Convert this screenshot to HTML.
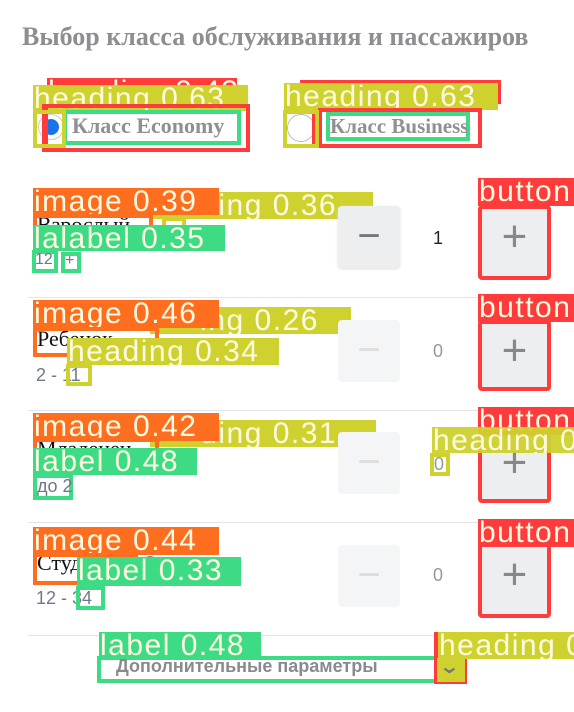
<!DOCTYPE html>
<html><head><meta charset="utf-8"><style>
body{margin:0;width:574px;height:712px;background:#fff;position:relative;overflow:hidden;font-family:"Liberation Sans","DejaVu Sans",sans-serif}
.a{position:absolute;box-sizing:border-box}
.t{position:absolute;white-space:nowrap}
.lb{position:absolute;color:#fffbe2;font-size:30px;line-height:28px;white-space:nowrap;overflow:hidden;padding-left:1px;letter-spacing:1.5px}
.R{background:#ff3b3b}.Y{background:#cfd22e}.O{background:#ff6e1f}.G{background:#3ddc84}
.bR{border:4px solid #ff3b3b}.bY{border:4px solid #cfd22e}.bO{border:4px solid #ff6e1f}.bG{border:4px solid #3ddc84}
.btn{position:absolute;background:#eceef0;border-radius:4px;color:#888;font-size:40px;text-align:center;font-weight:100}
.hr{position:absolute;left:28px;width:546px;height:1px;background:#e4e4e8}
.num{position:absolute;font-size:18px;color:#999}
.sub{position:absolute;font-size:18px;color:#707888}
</style></head><body>
<div class="t" style="left:22px;top:22px;font-family:'Liberation Serif',serif;font-weight:bold;font-size:26px;color:#8e8e92">Выбор класса обслуживания и пассажиров</div>

<!-- economy -->
<div class="lb R" style="left:47px;top:78px;width:189px;height:22px">heading 0.43</div>
<div class="lb Y" style="left:33px;top:85px;width:214px;height:26px">heading 0.63</div>
<div class="a" style="left:38px;top:114px;width:26px;height:26px;border-radius:50%;border:1px solid #ccc;background:#fff"></div>
<div class="a" style="left:43px;top:119px;width:16px;height:16px;border-radius:50%;background:#1a73e8"></div>
<div class="a bR" style="left:42px;top:104px;width:208px;height:48px"></div>
<div class="a" style="left:44px;top:108px;width:4px;height:36px;background:#ff3b3b"></div>
<div class="a bG" style="left:63px;top:110px;width:178px;height:35px;background:#fff"></div>
<div class="t" style="left:72px;top:113px;font-family:'Liberation Serif',serif;font-weight:bold;font-size:22px;color:#909090">Класс Economy</div>
<div class="a bY" style="left:33px;top:110px;width:33px;height:38px"></div>

<!-- business -->
<div class="lb R" style="left:300px;top:80px;width:200px;height:24px"></div>
<div class="lb Y" style="left:284px;top:83px;width:213px;height:27px">heading 0.63</div>
<div class="a" style="left:287px;top:114px;width:28px;height:28px;border-radius:50%;border:1px solid #bbb;background:#fff"></div>
<div class="a bR" style="left:318px;top:108px;width:164px;height:40px"></div>
<div class="a" style="left:312px;top:113px;width:4px;height:34px;background:#ff3b3b"></div>
<div class="a bG" style="left:326px;top:112px;width:144px;height:29px"></div>
<div class="t" style="left:330px;top:114px;font-family:'Liberation Serif',serif;font-weight:bold;font-size:21px;color:#909090;width:137px;overflow:hidden">Класс Business</div>
<div class="a bY" style="left:283px;top:110px;width:36px;height:38px"></div>

<!-- row1 -->
<div class="lb Y" style="left:150px;top:192px;width:222px;height:27px">&nbsp;&nbsp;&nbsp;&nbsp;&nbsp;ding 0.36</div>
<div class="lb O" style="left:33px;top:188px;width:185px;height:27px">image 0.39</div>
<div class="t" style="left:37px;top:212px;font-family:'Liberation Serif',serif;font-size:22px;color:#111">Взрослый</div>
<div class="a bO" style="left:33px;top:214px;width:120px;height:28px"></div>
<div class="a bY" style="left:162px;top:217px;width:24px;height:22px"></div>
<div class="lb G" style="left:33px;top:225px;width:191px;height:26px">lalabel 0.35</div>
<div class="a bG" style="left:32px;top:250px;width:26px;height:23px"></div>
<div class="sub" style="left:35px;top:251px;font-size:16px">12</div>
<div class="a bG" style="left:61px;top:252px;width:20px;height:21px"></div>
<div class="sub" style="left:65px;top:252px;font-size:16px">+</div>
<div class="btn" style="left:338px;top:206px;width:62px;height:62px;line-height:60px;color:#777;box-shadow:0 1px 3px #ddd">−</div>
<div class="num" style="left:433px;top:228px;color:#222">1</div>
<div class="lb R" style="left:478px;top:178px;width:96px;height:28px">button</div>
<div class="btn bR" style="left:478px;top:205px;width:65px;height:67px;line-height:56px;font-size:44px;color:#888">+</div>

<div class="hr" style="top:297px"></div>
<!-- row2 -->
<div class="lb Y" style="left:150px;top:307px;width:200px;height:27px">&nbsp;&nbsp;&nbsp;&nbsp;&nbsp;ing 0.26</div>
<div class="lb O" style="left:33px;top:300px;width:185px;height:28px">image 0.46</div>
<div class="t" style="left:37px;top:326px;font-family:'Liberation Serif',serif;font-size:22px;color:#111">Ребенок</div>
<div class="a bO" style="left:33px;top:327px;width:126px;height:30px"></div>
<div class="lb Y" style="left:67px;top:338px;width:211px;height:27px">heading 0.34</div>
<div class="sub" style="left:36px;top:365px">2 - 11</div>
<div class="a bY" style="left:66px;top:364px;width:26px;height:22px"></div>
<div class="btn" style="left:338px;top:320px;width:62px;height:62px;line-height:60px;background:#f4f5f6;color:#ddd">−</div>
<div class="num" style="left:433px;top:341px">0</div>
<div class="lb R" style="left:478px;top:294px;width:96px;height:28px">button</div>
<div class="btn bR" style="left:478px;top:320px;width:65px;height:63px;line-height:54px;font-size:44px">+</div>

<div class="hr" style="top:410px"></div>
<!-- row3 -->
<div class="lb Y" style="left:150px;top:420px;width:225px;height:27px">&nbsp;&nbsp;&nbsp;&nbsp;&nbsp;ding 0.31</div>
<div class="lb O" style="left:33px;top:413px;width:185px;height:28px">image 0.42</div>
<div class="t" style="left:37px;top:436px;font-family:'Liberation Serif',serif;font-size:22px;color:#111">Младенец</div>
<div class="a bO" style="left:33px;top:438px;width:126px;height:24px"></div>
<div class="lb G" style="left:33px;top:448px;width:163px;height:27px">label 0.48</div>
<div class="a bG" style="left:33px;top:474px;width:40px;height:26px"></div>
<div class="sub" style="left:37px;top:476px">до 2</div>
<div class="btn" style="left:338px;top:432px;width:62px;height:62px;line-height:60px;background:#f4f5f6;color:#ddd">−</div>
<div class="lb R" style="left:478px;top:407px;width:96px;height:28px">button</div>
<div class="btn bR" style="left:478px;top:432px;width:65px;height:63px;line-height:54px;font-size:44px">+</div>
<div class="lb Y" style="left:432px;top:427px;width:142px;height:26px;opacity:.95">heading 0</div>
<div class="num" style="left:434px;top:454px">0</div>
<div class="a bY" style="left:430px;top:453px;width:20px;height:23px"></div>

<div class="hr" style="top:522px"></div>
<!-- row4 -->
<div class="lb O" style="left:33px;top:527px;width:185px;height:28px">image 0.44</div>
<div class="t" style="left:37px;top:550px;font-family:'Liberation Serif',serif;font-size:22px;color:#111">Студент</div>
<div class="a" style="left:143px;top:556px;width:14px;height:14px;border-radius:50%;background:#777"></div>
<div class="a bO" style="left:33px;top:553px;width:105px;height:32px"></div>
<div class="lb G" style="left:77px;top:557px;width:163px;height:29px">label 0.33</div>
<div class="sub" style="left:36px;top:588px">12 - 34</div>
<div class="a bG" style="left:76px;top:586px;width:29px;height:24px"></div>
<div class="btn" style="left:338px;top:545px;width:62px;height:62px;line-height:60px;background:#f4f5f6;color:#ddd">−</div>
<div class="num" style="left:433px;top:565px">0</div>
<div class="lb R" style="left:478px;top:519px;width:96px;height:28px">button</div>
<div class="btn bR" style="left:478px;top:543px;width:65px;height:67px;line-height:56px;font-size:44px">+</div>

<div class="hr" style="top:635px"></div>
<!-- bottom -->
<div class="lb G" style="left:99px;top:632px;width:161px;height:27px">label 0.48</div>
<div class="a bG" style="left:97px;top:656px;width:341px;height:27px"></div>
<div class="t" style="left:116px;top:656px;font-weight:bold;font-size:18px;color:#8a8a8e">Дополнительные параметры</div>
<div class="a bR" style="left:434px;top:632px;width:33px;height:52px"></div>
<div class="lb Y" style="left:438px;top:632px;width:136px;height:27px">heading 0</div>
<div class="a Y" style="left:437px;top:658px;width:28px;height:24px"></div>
<div class="t" style="left:441px;top:654px;font-size:20px;color:#777;font-weight:bold;transform:scaleX(1.3)">⌄</div>
</body></html>
